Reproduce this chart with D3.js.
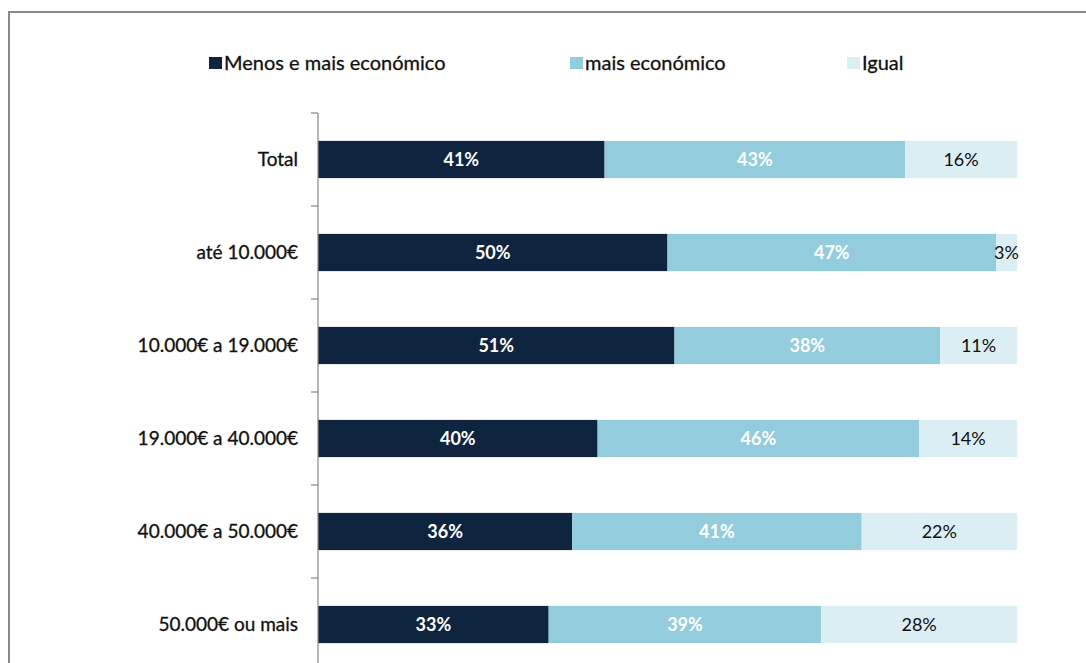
<!DOCTYPE html>
<html>
<head>
<meta charset="utf-8">
<script src="https://cdn.jsdelivr.net/npm/d3@7"></script>
<style>
  body { margin: 0; background: #fff; }
  svg { display: block; font-family: Lato, "Open Sans", sans-serif; }
</style>
</head>
<body>
<svg id="chart" width="1086" height="663"></svg>
<script>
// categories (top to bottom)
var categories = ['Total', 'até 10.000€', '10.000€ a 19.000€', '19.000€ a 40.000€', '40.000€ a 50.000€', '50.000€ ou mais'];
var seriesNames = ['Menos e mais económico', 'mais económico', 'Igual'];
var menosMais = [41, 50, 51, 40, 36, 33];
var maisEcon = [43, 47, 38, 46, 41, 39];
var igual = [16, 3, 11, 14, 22, 28];
var colors = ['#0f243e', '#93cddd', '#daeef3'];
var labelColors = ['#fff', '#fff', '#111'];

var svg = d3.select('#chart');
var width = 1086, height = 663;
var margin = { left: 318, right: 69, top: 113 };
var band = 93;

// frame
svg.append('rect')
    .attr('x', 9).attr('y', 12)
    .attr('width', width + 20).attr('height', height + 20)
    .attr('fill', '#fff')
    .attr('stroke', '#878787')
    .attr('stroke-width', 2);

// table for the stack, shares normalised per row
var rows = categories.map(function (c, i) {
    var total = menosMais[i] + maisEcon[i] + igual[i];
    return {
        cat: c,
        s0: menosMais[i] / total, s1: maisEcon[i] / total, s2: igual[i] / total,
        v0: menosMais[i], v1: maisEcon[i], v2: igual[i]
    };
});
var keys = ['s0', 's1', 's2'];
var stacked = d3.stack().keys(keys)(rows);

var x = d3.scaleLinear().domain([0, 1]).range([margin.left, width - margin.right]);
var y = d3.scaleBand().domain(categories)
    .range([margin.top, margin.top + band * categories.length])
    .paddingInner(0.6).paddingOuter(0.3);

var layers = svg.append('g').selectAll('g')
    .data(stacked).enter().append('g')
    .attr('fill', function (d, i) { return colors[i]; });

layers.selectAll('rect')
    .data(function (d) { return d; }).enter().append('rect')
    .attr('x', function (d) { return x(d[0]); })
    .attr('y', function (d) { return y(d.data.cat); })
    .attr('width', function (d) { return x(d[1]) - x(d[0]); })
    .attr('height', y.bandwidth());

// data labels
stacked.forEach(function (layer, li) {
    svg.append('g').selectAll('text')
        .data(layer).enter().append('text')
        .attr('x', function (d) { return (x(d[0]) + x(d[1])) / 2; })
        .attr('y', function (d) { return y(d.data.cat) + y.bandwidth() / 2; })
        .attr('dy', '0.36em')
        .attr('text-anchor', 'middle')
        .attr('font-size', 18)
        .attr('font-weight', li < 2 ? 'bold' : 'normal')
        .attr('fill', labelColors[li])
        .text(function (d) { return d.data['v' + li] + '%'; });
});

// category axis
var axis = svg.append('g')
    .attr('transform', 'translate(' + margin.left + ',0)');
axis.append('line')
    .attr('x1', 0).attr('x2', 0)
    .attr('y1', margin.top).attr('y2', margin.top + band * categories.length)
    .attr('stroke', '#868686').attr('stroke-width', 1.2);
axis.selectAll('.tick')
    .data(d3.range(categories.length + 1)).enter().append('line')
    .attr('x1', -7).attr('x2', 0)
    .attr('y1', function (i) { return margin.top + i * band; })
    .attr('y2', function (i) { return margin.top + i * band; })
    .attr('stroke', '#868686').attr('stroke-width', 1.2);
axis.selectAll('text')
    .data(categories).enter().append('text')
    .attr('x', -20)
    .attr('y', function (d) { return y(d) + y.bandwidth() / 2; })
    .attr('dy', '0.36em')
    .attr('text-anchor', 'end')
    .attr('font-size', 19)
    .attr('fill', '#111')
    .attr('stroke', '#111').attr('stroke-width', 0.3)
    .text(function (d) { return d; });

// legend
var legendX = [209, 570, 847];
var legend = svg.append('g').selectAll('g')
    .data(seriesNames).enter().append('g')
    .attr('transform', function (d, i) { return 'translate(' + legendX[i] + ',57)'; });
legend.append('rect')
    .attr('width', 13).attr('height', 12)
    .attr('fill', function (d, i) { return colors[i]; });
legend.append('text')
    .attr('x', 15).attr('y', 6).attr('dy', '0.36em')
    .attr('font-size', 20)
    .attr('fill', '#111')
    .attr('stroke', '#111').attr('stroke-width', 0.3)
    .text(function (d) { return d; });
</script>
</body>
</html>
